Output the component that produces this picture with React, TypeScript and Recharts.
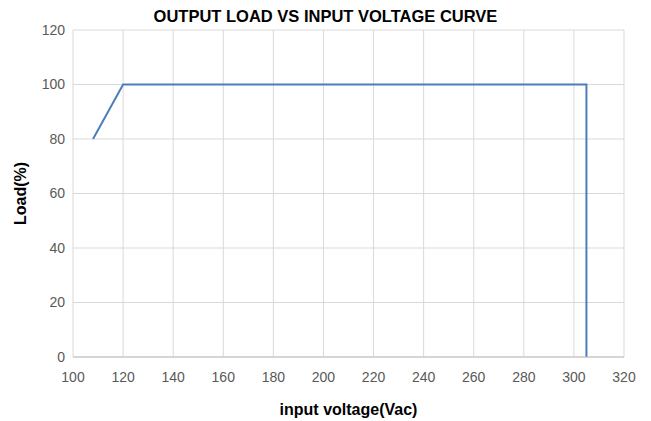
import React from "react";
import { LineChart, Line, XAxis, YAxis, CartesianGrid, Label } from "recharts";

// input voltage (Vac) vs output load (%)
const voltage = [108, 120, 305, 305];
const load = [80, 100, 100, 0];
const xTicks = [100, 120, 140, 160, 180, 200, 220, 240, 260, 280, 300, 320];
const yTicks = [0, 20, 40, 60, 80, 100, 120];

const chartData = voltage.map((v, i) => ({ v, load: load[i] }));

const FONT = "'Liberation Sans', Arial, sans-serif";

export default function App() {
  return (
    <div style={{ position: "absolute", left: 0, top: 0, width: 651, height: 421, background: "#fff", fontFamily: FONT }}>
      <div
        style={{
          position: "absolute",
          top: 7,
          left: 0,
          width: 651,
          textAlign: "center",
          fontWeight: "bold",
          fontSize: 16.5,
          color: "#000",
        }}
      >
        OUTPUT LOAD VS INPUT VOLTAGE CURVE
      </div>
      <LineChart
        width={651}
        height={421}
        data={chartData}
        margin={{ top: 30, right: 27, bottom: 0, left: 0 }}
      >
        <CartesianGrid stroke="#d9d9d9" strokeWidth={1} />
        <XAxis
          dataKey="v"
          type="number"
          domain={[100, 320]}
          ticks={xTicks}
          height={64}
          tickSize={0}
          tickMargin={15}
          axisLine={{ stroke: "#bfbfbf" }}
          tickLine={false}
          tick={{ fill: "#595959", fontSize: 14, fontFamily: FONT }}
        >
          <Label
            value="input voltage(Vac)"
            position="insideBottom"
            offset={6}
            style={{ fontWeight: "bold", fontSize: 16, fill: "#000", fontFamily: FONT }}
          />
        </XAxis>
        <YAxis
          type="number"
          domain={[0, 120]}
          ticks={yTicks}
          width={73}
          tickSize={0}
          tickMargin={8}
          axisLine={false}
          tickLine={false}
          tick={{ fill: "#595959", fontSize: 14, fontFamily: FONT }}
        >
          <Label
            value="Load(%)"
            angle={-90}
            position="insideLeft"
            offset={20}
            style={{ fontWeight: "bold", fontSize: 16, fill: "#000", fontFamily: FONT, textAnchor: "middle" }}
          />
        </YAxis>
        <Line
          type="linear"
          dataKey="load"
          stroke="#4a7ebb"
          strokeWidth={2}
          dot={false}
          isAnimationActive={false}
        />
      </LineChart>
    </div>
  );
}
